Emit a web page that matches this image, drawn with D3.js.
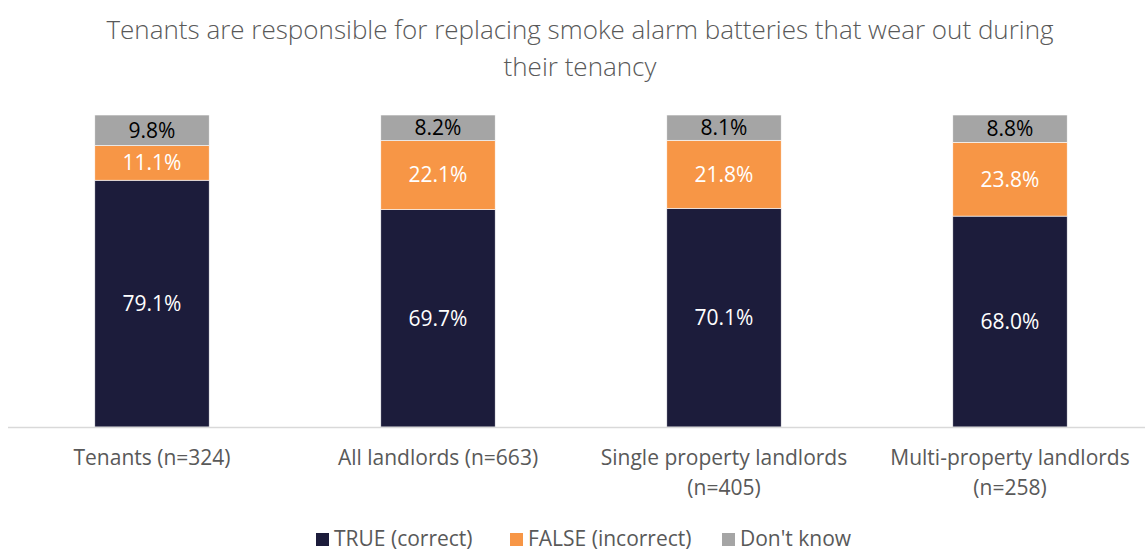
<!DOCTYPE html>
<html>
<head>
<meta charset="utf-8">
<script src="https://cdn.jsdelivr.net/npm/d3@7"></script>
<style>
  body { margin: 0; background: #fff; }
  text { font-family: "Open Sans", "Noto Sans", sans-serif; }
</style>
</head>
<body>
<script>
let categories = [
    "Tenants (n=324)",
    "All landlords (n=663)",
    "Single property landlords (n=405)",
    "Multi-property landlords (n=258)"
];
let seriesNames = ["TRUE (correct)", "FALSE (incorrect)", "Don't know"];
let trueValues = [79.1, 69.7, 70.1, 68.0];
let falseValues = [11.1, 22.1, 21.8, 23.8];
let dontKnowValues = [9.8, 8.2, 8.1, 8.8];
let titleLines = [
    "Tenants are responsible for replacing smoke alarm batteries that wear out during",
    "their tenancy"
];

function main() {
    let width = 1145, height = 551;
    let colors = ["#1c1c3b", "#f79646", "#a5a5a5"];
    let labelColors = ["#ffffff", "#ffffff", "#000000"];

    let svg = d3.select("body").append("svg")
        .attr("width", width)
        .attr("height", height);

    // title
    svg.append("g").selectAll("text")
        .data(titleLines)
        .enter()
        .append("text")
        .attr("x", 580)
        .attr("y", (d, i) => 39 + i * 37)
        .attr("text-anchor", "middle")
        .style("font-size", "26px")
        .style("font-weight", 300)
        .attr("fill", "#595959")
        .text(d => d);

    let xScale = d3.scaleBand().domain(categories).range([9, 1153])
        .paddingInner(0.6).paddingOuter(0.3);
    // 100% stacked, like the original
    let yScale = d3.scaleLinear().domain([0, 1]).range([427, 115]);

    let table = categories.map((c, i) => ({
        category: c,
        t: trueValues[i], f: falseValues[i], d: dontKnowValues[i]
    }));
    let stack = d3.stack().keys(["t", "f", "d"])
        .offset(d3.stackOffsetExpand)(table);

    let layers = svg.append("g").selectAll("g")
        .data(stack)
        .enter()
        .append("g")
        .attr("fill", (d, i) => colors[i]);

    layers.selectAll("rect")
        .data(d => d)
        .enter()
        .append("rect")
        .attr("x", d => xScale(d.data.category))
        .attr("y", d => yScale(d[1]))
        .attr("width", xScale.bandwidth())
        .attr("height", d => yScale(d[0]) - yScale(d[1]))
        .attr("stroke", "#ffffff")
        .attr("stroke-width", 0.6);

    layers.each(function(layer, li) {
        d3.select(this).selectAll("text")
            .data(layer)
            .enter()
            .append("text")
            .attr("x", d => xScale(d.data.category) + xScale.bandwidth() / 2)
            .attr("y", d => (yScale(d[0]) + yScale(d[1])) / 2)
            .attr("dy", "0.35em")
            .attr("text-anchor", "middle")
            .attr("fill", labelColors[li])
            .style("font-size", "21px")
            .text(d => d3.format(".1f")(d.data[layer.key]) + "%");
    });

    // axis line
    svg.append("line")
        .attr("x1", 8).attr("x2", 1145)
        .attr("y1", 427.5).attr("y2", 427.5)
        .attr("stroke", "#d9d9d9")
        .attr("stroke-width", 1.5);

    let xAxis = d3.axisBottom(xScale).tickSize(0).tickPadding(0);
    let axisG = svg.append("g")
        .attr("transform", "translate(0,427)")
        .call(xAxis);
    axisG.select(".domain").remove();
    axisG.selectAll("text")
        .style("font-size", "21px")
        .style("font-family", '"Open Sans", "Noto Sans", sans-serif')
        .attr("fill", "#595959")
        .attr("dy", null)
        .attr("y", 38)
        .each(function() { wrap(d3.select(this), 285); });

    // legend
    let legendX = [316, 510, 722];
    let legend = svg.append("g").selectAll("g")
        .data(seriesNames)
        .enter()
        .append("g")
        .attr("transform", (d, i) => `translate(${legendX[i]},539)`);
    legend.append("rect")
        .attr("x", 0).attr("y", -6)
        .attr("width", 13).attr("height", 13)
        .attr("fill", (d, i) => colors[i]);
    legend.append("text")
        .attr("x", 18)
        .attr("dy", "0.35em")
        .style("font-size", "21px")
        .attr("fill", "#595959")
        .text(d => d);
}

function wrap(text, maxWidth) {
    let words = text.text().split(/\s+/);
    let y = text.attr("y");
    text.text(null);
    let line = [];
    let lineNo = 0;
    let tspan = text.append("tspan").attr("x", 0).attr("y", y);
    words.forEach(w => {
        line.push(w);
        tspan.text(line.join(" "));
        if (tspan.node().getComputedTextLength() > maxWidth && line.length > 1) {
            line.pop();
            tspan.text(line.join(" "));
            line = [w];
            lineNo++;
            tspan = text.append("tspan").attr("x", 0).attr("y", +y + lineNo * 30).text(w);
        }
    });
}

main()
</script>
</body>
</html>
